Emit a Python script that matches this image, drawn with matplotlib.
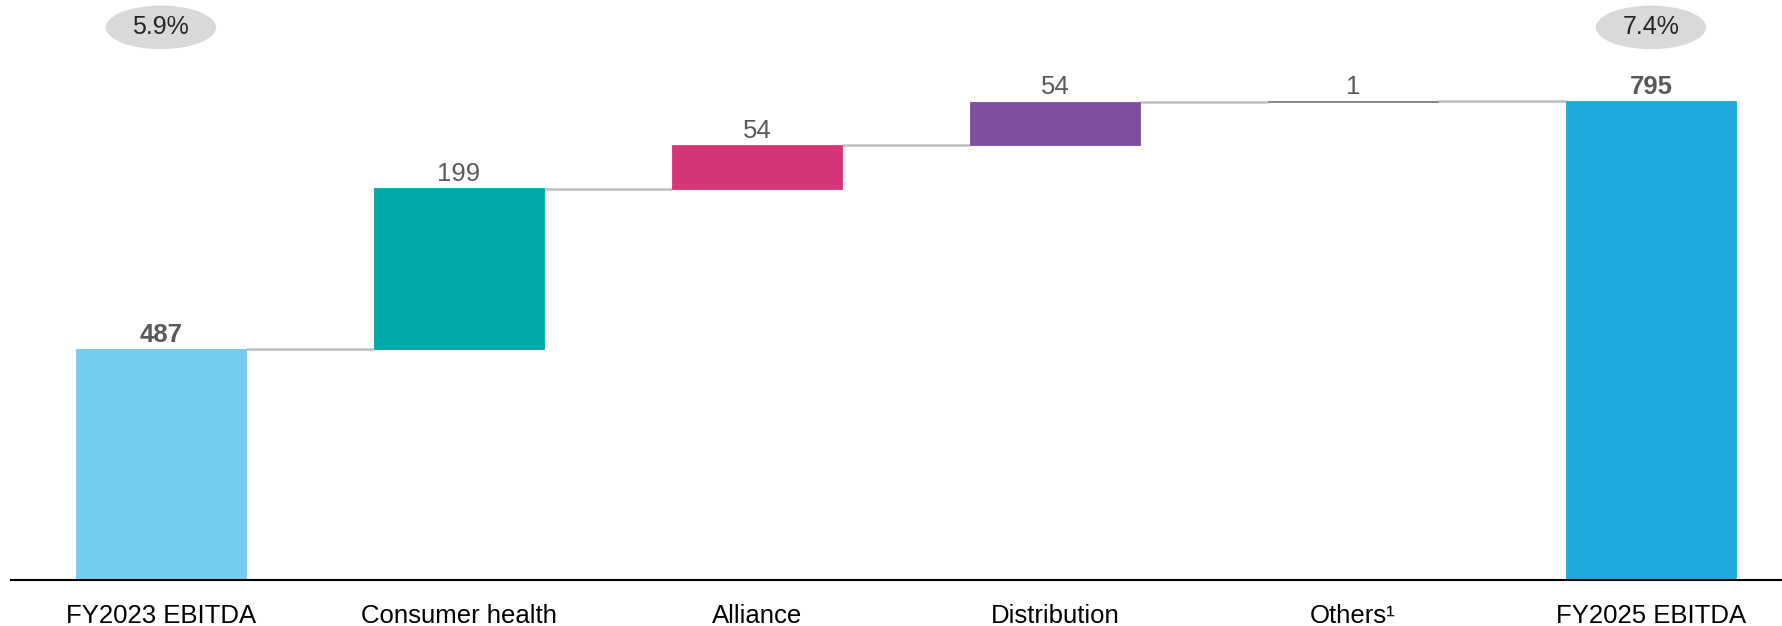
import matplotlib
matplotlib.use("Agg")
import matplotlib.pyplot as plt
from matplotlib.patches import Ellipse

plt.rcParams['font.family'] = ['Liberation Sans', 'DejaVu Sans']

categories = ["FY2023 EBITDA", "Consumer health", "Alliance", "Distribution",
              "Others\u00b9", "FY2025 EBITDA"]
values = [487, 199, 54, 54, 1, 795]
is_total = [True, False, False, False, False, True]
colors = ["#75cdee", "#00a8a8", "#d63678", "#7f4f9f", "#7f7f7f", "#1ea9dd"]
margin_idx = [0, 5]
margin_labels = ["5.9%", "7.4%"]

W, H = 1783, 626
fig = plt.figure(figsize=(W / 100, H / 100), dpi=100)
ax = fig.add_axes([11 / W, (H - 580) / H, 1 - 11 / W, 580 / H])

ymin = 200
ax.set_ylim(ymin, 920)
ax.set_xlim(-0.503, 5.443)

width = 0.57
x = list(range(len(values)))
bottoms, tops = [], []
level = 0
for v, t in zip(values, is_total):
    if t:
        bottoms.append(ymin)
        tops.append(v)
        level = v
    else:
        bottoms.append(level)
        tops.append(level + v)
        level += v

heights = [tp - b for tp, b in zip(tops, bottoms)]
ax.bar(x, heights, bottom=bottoms, width=width, color=colors,
       edgecolor=colors, linewidth=0.6, zorder=2)

# connectors
for i in range(len(values) - 1):
    lvl = tops[i]
    ax.plot([x[i] + width / 2, x[i + 1] - width / 2], [lvl, lvl],
            color="#bfbfbf", lw=1.8, zorder=1, solid_capstyle='butt')

# value labels
for i, v in enumerate(values):
    ax.annotate(str(v), (x[i], tops[i]), xytext=(0, 1.5), textcoords='offset points',
                ha='center', va='bottom', fontsize=18.5, color="#595959",
                fontweight='bold' if is_total[i] else 'normal')

# margin ellipses
for i, lab in zip(margin_idx, margin_labels):
    e = Ellipse((x[i], 886), width=0.37, height=54, facecolor="#d9d9d9",
                edgecolor='none', zorder=3)
    ax.add_patch(e)
    ax.text(x[i], 886, lab, ha='center', va='center', fontsize=18,
            color="#262626", zorder=4)

ax.set_xticks(x)
ax.set_xticklabels(categories, fontsize=18.5, color="#000000")
ax.tick_params(axis='x', length=0, pad=17)
ax.set_yticks([])
for s in ['top', 'right', 'left']:
    ax.spines[s].set_visible(False)
ax.spines['bottom'].set_color('#000000')
ax.spines['bottom'].set_linewidth(1.5)
ax.spines['bottom'].set_zorder(5)

fig.savefig("out.png", dpi=100)
